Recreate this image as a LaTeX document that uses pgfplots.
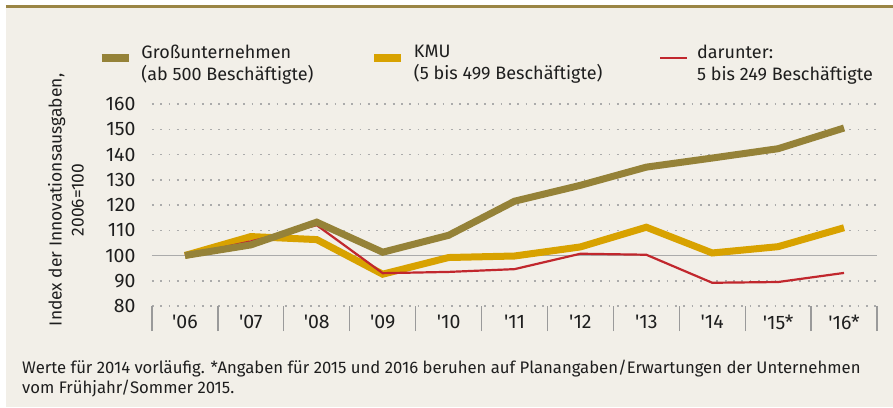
\documentclass[border=0pt]{standalone}
\usepackage{fontspec}
\setmainfont{Fira Sans}
\usepackage{pgfplots}
\pgfplotsset{compat=1.18}
\definecolor{olivel}{HTML}{958238}
\definecolor{goldl}{HTML}{D8A200}
\definecolor{redl}{HTML}{C1272D}
\definecolor{bgc}{HTML}{F2EFE8}
\definecolor{gridc}{HTML}{ABABAB}
\definecolor{txt}{HTML}{1E1E1E}
\definecolor{rulec}{HTML}{9A8545}
\newcommand{\q}{\textquotesingle}
\begin{document}
\begin{tikzpicture}[x=1pt,y=1pt]
\fill[white] (-152,-101) rectangle (741,306);
\fill[bgc] (-146,-101) rectangle (741,298);
\draw[rulec, line width=3pt] (-146,299.5) -- (741,299.5);
\begin{axis}[
  at={(0pt,0pt)}, anchor=south west,
  scale only axis, width=725pt, height=202pt,
  xmin=-0.5, xmax=10.5, ymin=80, ymax=160,
  axis line style={draw=none},
  xtick pos=bottom, ytick pos=left,
  /pgf/number format/assume math mode=true,
  xtick={-0.5,0.5,...,10.5}, xticklabels={},
  tick align=outside,
  major tick length=25pt,
  x tick style={draw=gridc!90!black, line width=1.3pt},
  extra x ticks={0,1,...,10},
  extra x tick labels={\q06,\q07,\q08,\q09,\q10,\q11,\q12,\q13,\q14,\q15*,\q16*},
  extra x tick style={major tick length=0pt, xticklabel style={anchor=center, yshift=-16pt}},
  ytick={80,90,110,120,130,140,150,160},
  y tick style={draw=none},
  extra y ticks={100},
  extra y tick style={ymajorgrids=true, major grid style={solid, gridc, line width=1.5pt}},
  ymajorgrids,
  major grid style={gridc, line width=1.5pt, dash pattern=on 1.8pt off 6.5pt},
  yticklabel style={anchor=east, xshift=12pt},
  tick label style={font=\fontsize{19.5}{21}\selectfont, text=txt},
  ylabel={Index der Innovationsausgaben,\\2006=100},
  ylabel style={align=center, font=\fontsize{17.4}{22}\selectfont, text=txt, at={(axis description cs:-0.1186,0.525)}, anchor=center},
  legend columns=3,
  legend image code/.code={\draw[#1] (0pt,0pt) -- (27pt,0pt);},
  legend style={draw=none, fill=none, inner sep=0pt, outer sep=0pt,
    at={(axis description cs:-0.0745,1.2277)}, anchor=west,
    font=\fontsize{18}{22}\selectfont, text=txt,
    /tikz/every odd column/.append style={column sep=9pt},
    /tikz/every even column/.append style={column sep=0pt},
    nodes={inner sep=0pt}},
  legend cell align=left,
]
\addlegendimage{olivel, line width=7.5pt}
\addlegendentry{\parbox{229pt}{Großunternehmen\\(ab 500 Beschäftigte)}}
\addlegendimage{goldl, line width=7.5pt}
\addlegendentry{\parbox{245pt}{KMU\\(5 bis 499 Beschäftigte)}}
\addlegendimage{redl, line width=2.2pt}
\addlegendentry{\parbox{190pt}{darunter:\\5 bis 249 Beschäftigte}}
\addplot[goldl, line width=7pt, forget plot] coordinates {(0,100) (1,107.5) (2,106.3) (3,92.6) (4,99.2) (5,99.8) (6,103.4) (7,111.2) (8,101) (9,103.5) (10,111)};
\addplot[redl, line width=2.2pt, forget plot] coordinates {(0,100) (1,105.6) (2,112) (3,93) (4,93.5) (5,94.6) (6,100.7) (7,100.3) (8,89.2) (9,89.5) (10,93.1)};
\addplot[olivel, line width=7pt, forget plot] coordinates {(0,100) (1,104.2) (2,113.2) (3,101.3) (4,108) (5,121.5) (6,127.8) (7,135) (8,138.6) (9,142.3) (10,150.5)};
\end{axis}
\node[anchor=north west, align=left, font=\fontsize{16.7}{20}\selectfont, text=txt, inner sep=0pt] at (-130,-54) {Werte für 2014 vorläufig. *Angaben für 2015 und 2016 beruhen auf Planangaben/Erwartungen der Unternehmen\\vom Frühjahr/Sommer 2015.};
\pgfresetboundingbox
\path (-152,-101) rectangle (741,306);
\end{tikzpicture}
\end{document}
